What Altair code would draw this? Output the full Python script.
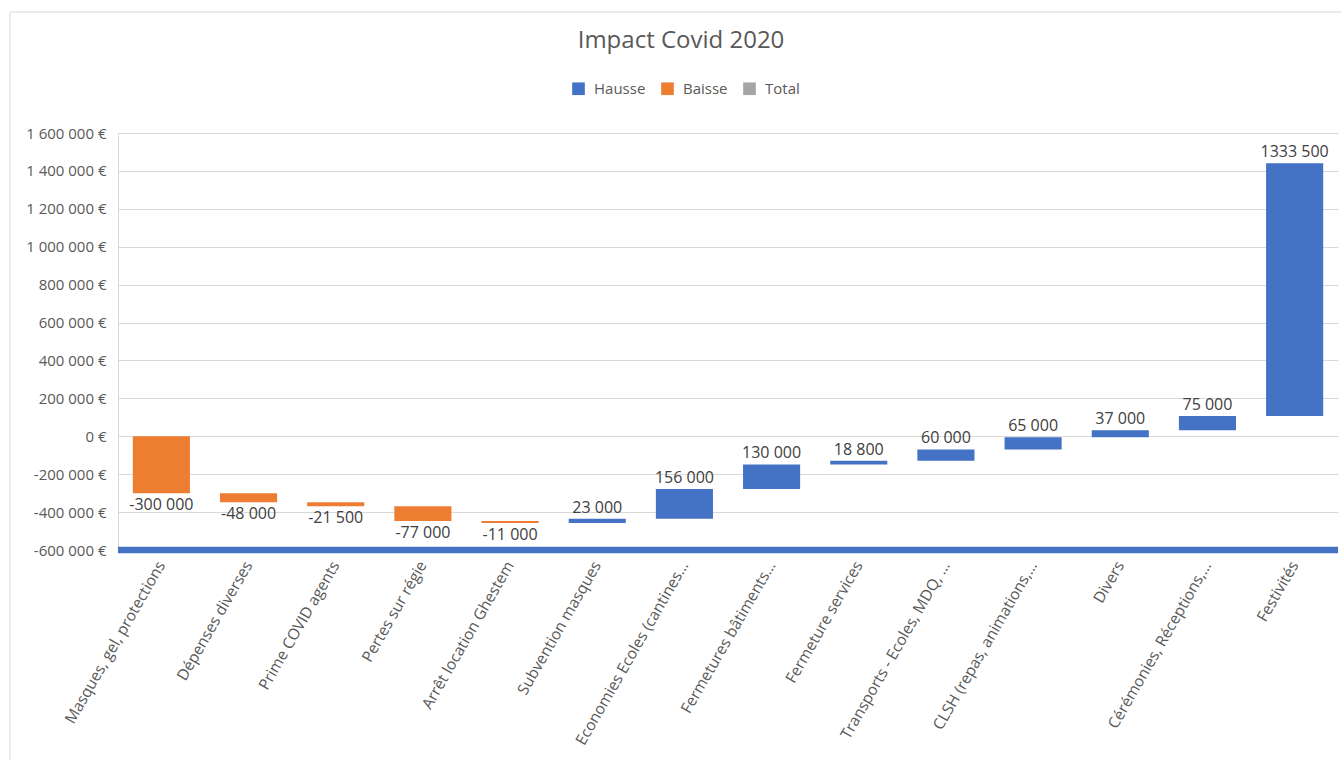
import altair as alt
import pandas as pd

categories = [
    "Masques, gel, protections", "Dépenses diverses", "Prime COVID agents",
    "Pertes sur régie", "Arrêt location Ghestem", "Subvention masques",
    "Economies Ecoles (cantines…", "Fermetures bâtiments…", "Fermeture services",
    "Transports - Ecoles, MDQ, …", "CLSH (repas, animations,…", "Divers",
    "Cérémonies, Réceptions,…", "Festivités",
]
values = [-300000, -48000, -21500, -77000, -11000, 23000, 156000, 130000,
          18800, 60000, 65000, 37000, 75000, 1333500]
labels = ["-300 000", "-48 000", "-21 500", "-77 000", "-11 000", "23 000",
          "156 000", "130 000", "18 800", "60 000", "65 000", "37 000",
          "75 000", "1333 500"]
legend_items = ["Hausse", "Baisse", "Total"]
legend_colors = ["#4472C4", "#ED7D31", "#A5A5A5"]
y_ticks = list(range(-600000, 1600001, 200000))

df = pd.DataFrame({"cat": categories, "value": values, "label": labels})
df["end"] = df["value"].cumsum()
df["start"] = df["end"] - df["value"]
df["type"] = ["Hausse" if v > 0 else "Baisse" for v in values]
df["top"] = df[["start", "end"]].max(axis=1)
df["bottom"] = df[["start", "end"]].min(axis=1)

W, H = 1220, 417
FONT = "Open Sans"
GREY = "#595959"

xaxis = alt.Axis(labelAngle=-60, labelAlign="right", labelBaseline="middle",
                 labelFontSize=15.5, labelColor=GREY, labelFont=FONT,
                 labelPadding=12, labelLimit=400, domain=False, ticks=False,
                 grid=False)
xscale = alt.Scale(paddingInner=0.345, paddingOuter=0.17)
yaxis = alt.Axis(values=y_ticks, labelOverlap=False, grid=True,
                 labelExpr="replace(replace(format(datum.value, ',.0f'), /,/g, ' '), '−', '-') + ' €'",
                 labelFontSize=15, labelColor=GREY, labelFont=FONT,
                 labelPadding=12, ticks=False, domain=True,
                 domainColor="#d9d9d9", gridColor="#d9d9d9")
yscale = alt.Scale(domain=[-600000, 1600000], nice=False)

base = alt.Chart(df)

bars = base.mark_bar().encode(
    x=alt.X("cat:N", sort=categories, title=None, scale=xscale, axis=xaxis),
    y=alt.Y("start:Q", scale=yscale, title=None, axis=yaxis),
    y2="end:Q",
    color=alt.Color("type:N", title=None,
                    scale=alt.Scale(domain=legend_items, range=legend_colors),
                    legend=alt.Legend(orient="none", direction="horizontal",
                                      legendX=453, legendY=-52,
                                      symbolType="square", symbolSize=160,
                                      symbolStrokeWidth=0, labelFontSize=15,
                                      labelColor=GREY, labelFont=FONT,
                                      columnPadding=14, labelOffset=8, padding=0)),
)

txt_pos = base.transform_filter("datum.value > 0").mark_text(
    dy=-11, fontSize=16, color="#404040", font=FONT
).encode(x=alt.X("cat:N", sort=categories, title=None, scale=xscale, axis=xaxis),
         y=alt.Y("top:Q", scale=yscale, title=None, axis=yaxis), text="label:N")

txt_neg = base.transform_filter("datum.value < 0").mark_text(
    dy=12, fontSize=16, color="#404040", font=FONT
).encode(x=alt.X("cat:N", sort=categories, title=None, scale=xscale, axis=xaxis),
         y=alt.Y("bottom:Q", scale=yscale, title=None, axis=yaxis), text="label:N")

base_line = alt.Chart(pd.DataFrame({"y": [-600000]})).mark_rule(
    color="#4472C4", strokeWidth=6.5
).encode(y=alt.Y("y:Q", scale=yscale, title=None, axis=yaxis),
         x=alt.value(0), x2=alt.value(W))

frame = alt.Chart(pd.DataFrame({"f": [0]})).mark_rect(
    fill="transparent", stroke="#d9d9d9", strokeWidth=1
).encode(x=alt.value(-108), x2=alt.value(W + 60), y=alt.value(-121), y2=alt.value(H + 400))

chart = alt.layer(frame, bars, base_line, txt_pos, txt_neg).properties(
    width=W, height=H,
    padding={"left": 118, "top": 133, "right": 3, "bottom": 210},
    autosize=alt.AutoSizeParams(type="none"),
    title=alt.TitleParams("Impact Covid 2020", fontSize=24, color=GREY, font=FONT,
                          fontWeight="normal", anchor="middle", dx=-47, offset=-41),
).configure_view(stroke=None)

chart.save("out.html", embed_options={"renderer": "svg", "actions": False})
